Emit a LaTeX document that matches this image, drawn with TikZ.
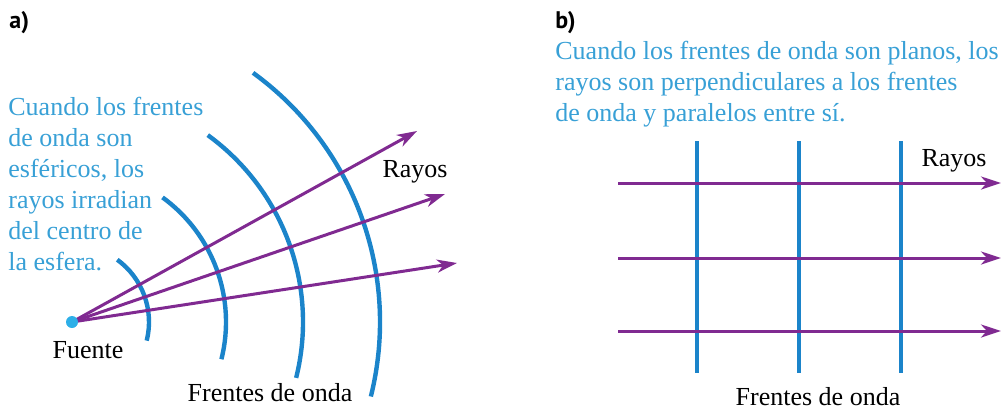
\documentclass[tikz,border=0pt]{standalone}
\usepackage{fontspec}
\setmainfont{Liberation Serif}
\setsansfont{PT Sans}
\usepackage{tikz}
\usetikzlibrary{arrows.meta,positioning}
\definecolor{frenteblue}{RGB}{27,132,202}
\definecolor{textblue}{RGB}{56,160,214}
\definecolor{rayopurple}{RGB}{128,42,145}
\definecolor{fuentecyan}{RGB}{45,175,232}
\tikzstyle{frente} = [frenteblue, line width=2.2pt]
\tikzstyle{rayo} = [rayopurple, line width=1.5pt, -{Stealth[length=10pt,width=6.5pt,inset=3pt]}]
\tikzstyle{nota} = [textblue, align=left, inner sep=0pt, anchor=north west, font=\fontsize{13}{15.5}\selectfont]
\tikzstyle{etiqueta} = [inner sep=0pt, font=\fontsize{13}{15.5}\selectfont]
\tikzstyle{letra} = [inner sep=0pt, anchor=north west, font=\sffamily\bfseries\fontsize{12}{14}\selectfont]

\begin{document}
\begin{tikzpicture}[x=0.5pt, y=0.5pt]
            \useasboundingbox (0,0) rectangle (1002,-409);
            \node[letra] (a) at (9,-11) {a)};
            \node[nota] (notaA) at (8,-97) {Cuando los frentes\\de onda son\\esféricos, los\\rayos irradian\\del centro de\\la esfera.};

            \coordinate (o) at (72,-322);
            \foreach \r in {77,154,231,308}
                \draw[frente] (o) ++(54:\r) arc[start angle=54, end angle=-14, radius=\r];
            \coordinate (r1) at (417,-131);
            \coordinate (r2) at (445,-194);
            \coordinate (r3) at (457,-263);
            \foreach \t in {r1,r2,r3}
                \draw[rayo] (o) -- (\t);
            \node[circle, fill=fuentecyan, minimum size=6pt, inner sep=0pt] (src) at (o) {};
            \node[etiqueta] (fuente) at (88,-350) {Fuente};
            \node[etiqueta] (rayosA) at (415,-172) {Rayos};
            \node[etiqueta] (frentesA) at (270,-393) {Frentes de onda};

            \node[letra] (b) at (555,-11) {b)};
            \node[nota] (notaB) at (555,-41) {Cuando los frentes de onda son planos, los\\rayos son perpendiculares a los frentes\\de onda y paralelos entre sí.};
            \foreach \x in {697,799,901}
                \draw[frente] (\x,-141) -- (\x,-373);
            \foreach \y in {183,258,331}
                \draw[rayo] (618,-\y) -- (1001,-\y);
            \node[etiqueta] (rayosB) at (954,-161) {Rayos};
            \node[etiqueta] (frentesB) at (818,-397) {Frentes de onda};
        \end{tikzpicture}
\end{document}
